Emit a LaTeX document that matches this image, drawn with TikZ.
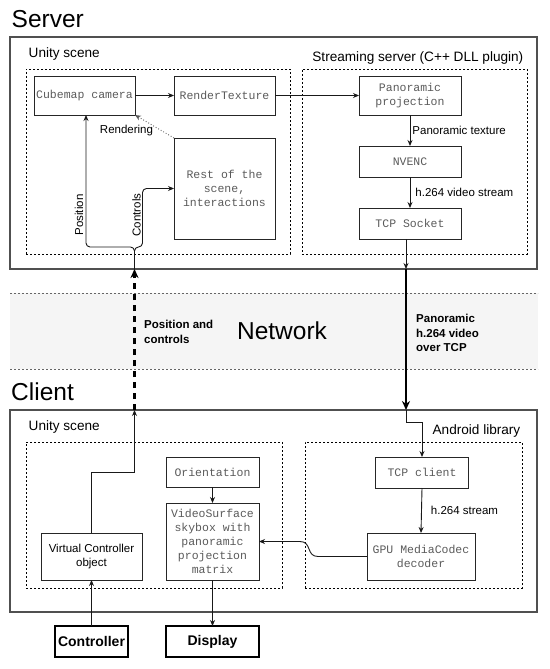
\documentclass[tikz,border=0pt]{standalone}
\usepackage{fontspec}
\setmainfont{Liberation Sans}
\newfontfamily\monof{Liberation Mono}
\usetikzlibrary{arrows.meta,calc}
\definecolor{bandgray}{HTML}{F5F5F5}
\definecolor{txtgray}{HTML}{5A5A5A}
\definecolor{outergray}{HTML}{505050}
\begin{document}
\begin{tikzpicture}[x=1pt,y=-1pt,
  outerbox/.style={draw=outergray, line width=1.3pt, inner sep=0pt, outer sep=0pt},
  dotbox/.style={draw=black, line width=0.8pt, dash pattern=on 2pt off 2pt, inner sep=0pt, outer sep=0pt},
  monobox/.style={draw=black!85, line width=0.9pt, inner sep=0pt, outer sep=0pt, align=center,
    text=txtgray, font=\monof\fontsize{11.5}{14}\selectfont},
  plainbox/.style={draw=black!85, line width=0.9pt, inner sep=0pt, outer sep=0pt, align=center,
    font=\fontsize{11.5}{14}\selectfont},
  boldbox/.style={draw=black, line width=1.8pt, inner sep=0pt, outer sep=0pt,
    font=\bfseries\fontsize{14}{16}\selectfont},
  titletxt/.style={inner sep=0pt, font=\fontsize{24.5}{28}\selectfont},
  grouplbl/.style={inner sep=0pt, font=\fontsize{13.6}{16}\selectfont},
  lbl/.style={inner sep=0pt, align=left, font=\fontsize{11.5}{14}\selectfont},
  blbl/.style={inner sep=0pt, align=left, font=\bfseries\fontsize{11.5}{14.5}\selectfont},
  arr/.style={draw=black!90, line width=0.9pt, -{Stealth[length=6pt,width=5pt]}},
  thickarr/.style={draw=black, line width=2.2pt, -{Stealth[length=9pt,width=8pt]}},
  bandline/.style={draw=black!60, line width=0.8pt, dash pattern=on 2pt off 2pt}
]
\useasboundingbox (0,0) rectangle (549,669);

% network band
\node[fill=bandgray, minimum width=528, minimum height=76, inner sep=0pt, outer sep=0pt] (band) at (274,331) {};
\draw[bandline] (band.north west) -- (band.north east);
\draw[bandline] (band.south west) -- (band.south east);
\node[titletxt] (net) at (282,331) {Network};
\node[blbl, anchor=west] (pclbl) at (144,332) {Position and\\controls};
\node[blbl, anchor=west] (pvlbl) at (416,333) {Panoramic\\h.264 video\\over TCP};

% titles
\node[titletxt, anchor=base west] (stitle) at (11.5,28) {Server};
\node[titletxt, anchor=base west] (ctitle) at (11,400) {Client};

% outer boxes
\node[outerbox, minimum width=527, minimum height=232] (server) at (273.5,153) {};
\node[outerbox, minimum width=527, minimum height=202] (client) at (273.5,511) {};

% server groups
\node[grouplbl, anchor=base west] (sunityl) at (28.5,58) {Unity scene};
\node[dotbox, minimum width=264, minimum height=185] (sunity) at (158,161.5) {};
\node[grouplbl, anchor=base east] (sstreaml) at (523.5,62) {Streaming server (C++ DLL plugin)};
\node[dotbox, minimum width=225, minimum height=185] (sstream) at (414.5,161.5) {};

% client groups
\node[grouplbl, anchor=base west] (cunityl) at (28.5,430.5) {Unity scene};
\node[dotbox, minimum width=256, minimum height=146] (cunity) at (154,515) {};
\node[grouplbl, anchor=base east] (candl) at (520.5,434.5) {Android library};
\node[dotbox, minimum width=217, minimum height=146] (cand) at (413.5,515) {};

% server nodes
\node[monobox, minimum width=101, minimum height=39] (cam) at (84.5,95.5) {Cubemap camera};
\node[monobox, minimum width=101, minimum height=39] (rt) at (224.5,95.5) {RenderTexture};
\node[monobox, minimum width=102, minimum height=39] (pano) at (410,95.5) {Panoramic\\projection};
\node[monobox, minimum width=102, minimum height=31] (nvenc) at (410,161.5) {NVENC};
\node[monobox, minimum width=102, minimum height=31] (sock) at (410,223.5) {TCP Socket};
\node[monobox, minimum width=101, minimum height=101] (rest) at (224.5,188.5) {Rest of the\\scene,\\interactions};

% client nodes
\node[monobox, minimum width=93, minimum height=30] (orient) at (212.5,472) {Orientation};
\node[monobox, minimum width=93, minimum height=77] (vs) at (212.5,541.5) {VideoSurface\\skybox with\\panoramic\\projection\\matrix};
\node[plainbox, minimum width=101, minimum height=47] (vc) at (91.5,556.5) {Virtual Controller\\object};
\node[monobox, minimum width=93, minimum height=31] (tcpc) at (422,472.5) {TCP client};
\node[monobox, minimum width=108, minimum height=47] (dec) at (421,556.5) {GPU MediaCodec\\decoder};
\node[boldbox, minimum width=73, minimum height=31] (ctrl) at (91.5,641.5) {Controller};
\node[boldbox, minimum width=93, minimum height=31] (disp) at (212.5,641.5) {Display};

% helper coordinates
\coordinate (sx) at (406,269);
\coordinate (cx) at (406,410);
\coordinate (su) at (134.5,269);
\coordinate (cu) at (134.5,410);
\coordinate (pl) at (86,247);
\coordinate (pr) at (142.5,247);

% server connectors
\draw[arr] (cam.east) -- (rt.west);
\draw[arr] (rt.east) -- (pano.west);
\draw[arr] (pano.south) -- node[lbl, anchor=west, xshift=2pt] (ptl) {Panoramic texture} (nvenc.north);
\draw[arr] (nvenc.south) -- node[lbl, anchor=west, xshift=5pt] (hvl) {h.264 video stream} (sock.north);
\draw[arr] (sock.south -| sx) -- (sx);
\draw[arr, dotted, draw=black!65] (rest.north west) -- (cam.south east);
\node[lbl] (rendl) at (126.5,131) {Rendering};
\draw[arr, rounded corners=4pt] (su) |- (pl) -- (pl |- cam.south);
\draw[arr, rounded corners=4pt] ($(su)+(0,-17)$) |- (pr) |- (rest.west);
\node[lbl, rotate=90] (posl) at (79,215) {Position};
\node[lbl, rotate=90] (ctll) at (136.5,215) {Controls};

% network connectors
\draw[thickarr] (sx) -- (cx);
\draw[thickarr, dash pattern=on 6pt off 5pt] (cu) -- (su);

% client connectors
\draw[arr] (cx) -- ($(cx)+(0,12)$) -| (tcpc.north);
\draw[arr] (tcpc.south) -- node[lbl, anchor=west, xshift=9pt] (h2l) {h.264 stream} (dec.north);
\draw[arr] (dec.west) -- (318,556.5) .. controls (306,556.5) and (312,541.5) .. (300,541.5) -- (vs.east);
\draw[arr] (orient.south) -- (vs.north);
\draw[arr] (vs.south) -- (disp.north);
\draw[arr] (ctrl.north) -- (vc.south);
\draw[arr] (vc.north) |- (134.5,472) -- (cu);
\end{tikzpicture}
\end{document}
